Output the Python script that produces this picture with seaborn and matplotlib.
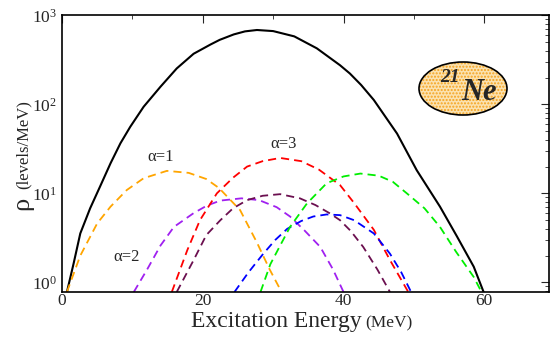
import matplotlib
matplotlib.use("Agg")
import matplotlib.pyplot as plt
import seaborn as sns
from matplotlib.patches import Ellipse
from matplotlib.ticker import MultipleLocator

sns.set_style("white")
plt.rcParams["font.family"] = ["Liberation Serif", "DejaVu Serif"]
plt.rcParams["mathtext.fontset"] = "stix"
plt.rcParams["hatch.linewidth"] = 1.0

# total level density (black, solid)
total_x = [0.7, 1.65, 2.6, 4.0, 5.4, 6.9, 8.3, 9.7, 11.6, 14.0, 16.3, 18.7, 21.1, 22.4, 24.4, 26.0,
           27.7, 30.0, 33.0, 36.2, 39.5, 40.9, 42.5, 44.3, 47.6, 50.4, 53.7, 56.1, 58.5, 59.9]
total_y = [0.78, 1.63, 3.55, 6.8, 11.9, 21.8, 36.5, 56, 94, 158, 253, 370, 470, 530, 610, 660,
           684, 665, 580, 426, 275, 222, 165, 112, 47, 18.2, 7.1, 3.3, 1.5, 0.78]

# partial densities (dashed)
orange_x = [0.7, 2.6, 5.0, 6.9, 9.2, 11.6, 14.9, 18.0, 20.5, 22.3, 25.3, 27.7, 29.5, 31.2]
orange_y = [0.78, 2.0, 4.6, 7.1, 10.9, 14.8, 17.9, 17.0, 14.5, 11.5, 6.5, 2.8, 1.4, 0.78]

violet_x = [10.2, 12.1, 14.0, 15.9, 18.7, 20.6, 22.5, 25.5, 28.0, 30.5, 32.4, 34.5, 36.7, 38.5, 40.0]
violet_y = [0.78, 1.4, 2.6, 4.2, 6.0, 7.3, 8.3, 8.8, 8.4, 7.0, 5.5, 3.8, 2.5, 1.4, 0.78]

red_x = [15.6, 17.8, 19.6, 22.0, 24.3, 26.3, 28.5, 31.0, 34.0, 36.5, 39.5, 41.5, 44.3, 46.6, 49.2]
red_y = [0.78, 2.3, 5.0, 10.0, 15.0, 20, 23, 25, 23, 18.5, 12.4, 7.8, 3.9, 1.78, 0.78]

maroon_x = [16.3, 18.7, 20.5, 22.5, 24.3, 26.3, 28.5, 31.0, 33.8, 36.0, 38.0, 39.5, 41.0, 42.8, 44.8, 46.6]
maroon_y = [0.78, 1.78, 3.4, 5.0, 6.8, 8.4, 9.4, 9.8, 8.8, 7.4, 6.0, 5.0, 3.8, 2.5, 1.4, 0.78]

blue_x = [24.5, 26.5, 28.6, 30.3, 32.0, 34.0, 35.7, 37.6, 39.5, 41.5, 44.3, 46.6, 48.2, 49.6]
blue_y = [0.78, 1.3, 2.1, 3.0, 4.0, 4.9, 5.5, 5.8, 5.7, 5.0, 3.55, 2.1, 1.3, 0.78]

green_x = [28.2, 29.6, 31.0, 32.4, 34.8, 37.6, 40.0, 42.4, 45.0, 47.0, 49.0, 51.5, 53.7, 56.0, 58.5, 59.6]
green_y = [0.78, 1.6, 2.6, 4.2, 7.7, 13, 15.5, 16.7, 15.8, 13.5, 10.0, 6.8, 4.2, 2.2, 1.15, 0.78]

dashed = [
    (orange_x, orange_y, "#FFA500"),
    (violet_x, violet_y, "#A020F0"),
    (red_x, red_y, "#FF0000"),
    (maroon_x, maroon_y, "#6B0F4F"),
    (blue_x, blue_y, "#0000FF"),
    (green_x, green_y, "#00EE00"),
]

fig = plt.figure(figsize=(5.51, 3.38), dpi=100)
ax = fig.add_axes([0.1125, 0.136, 0.884, 0.8187])

sns.lineplot(x=total_x, y=total_y, ax=ax, color="black", linewidth=1.5, sort=False)
for xs, ys, col in dashed:
    sns.lineplot(x=xs, y=ys, ax=ax, color=col, linewidth=1.3, linestyle=(0, (4.5, 2.8)), sort=False)

ax.set_yscale("log")
ax.set_xlim(0, 69.2)
ax.set_ylim(0.78, 1000)
ax.xaxis.set_major_locator(MultipleLocator(20))
ax.xaxis.set_minor_locator(MultipleLocator(10))
ax.tick_params(which="both", direction="in", top=True, right=True, labelsize=12.5)
ax.tick_params(axis="x", pad=1)
ax.tick_params(which="major", length=6)
ax.tick_params(which="minor", length=3)
for s in ax.spines.values():
    s.set_linewidth(1.2)
    s.set_color("black")

ax.text(14.0, 25.7, "α=1", fontsize=12, ha="center", va="center")
ax.text(9.2, 1.94, "α=2", fontsize=12, ha="center", va="center")
ax.text(31.5, 36, "α=3", fontsize=12, ha="center", va="center")

# axis labels with mixed font sizes
fig.text(361.7 / 551, 1 - 327 / 338, "Excitation Energy", fontsize=17, ha="right", va="baseline")
fig.text(365 / 551, 1 - 327 / 338, "(MeV)", fontsize=12.5, ha="left", va="baseline")
fig.text(22 / 551, 1 - 203 / 338, "ρ", fontsize=19, rotation=90, ha="center", va="center")
fig.text(24 / 551, 1 - 145 / 338, "(levels/MeV)", fontsize=12, rotation=90, ha="center", va="center")

# nucleus badge
center = (463 / 551, 1 - 88.5 / 338)
ell = Ellipse(center, 88 / 551, 53 / 338, transform=fig.transFigure,
              facecolor="#FBE2B0", edgecolor="#F5A31F", hatch=".....", linewidth=0)
fig.add_artist(ell)
ell2 = Ellipse(center, 88 / 551, 53 / 338, transform=fig.transFigure,
               facecolor="none", edgecolor="black", linewidth=1.2)
fig.add_artist(ell2)
fig.text(450 / 551, 1 - 78 / 338, "21", fontsize=14, fontweight="bold", style="italic",
         ha="center", va="center")
fig.text(479 / 551, 1 - 93 / 338, "Ne", fontsize=22, fontweight="bold", style="italic",
         ha="center", va="center")

fig.savefig("out.png", dpi=100)
